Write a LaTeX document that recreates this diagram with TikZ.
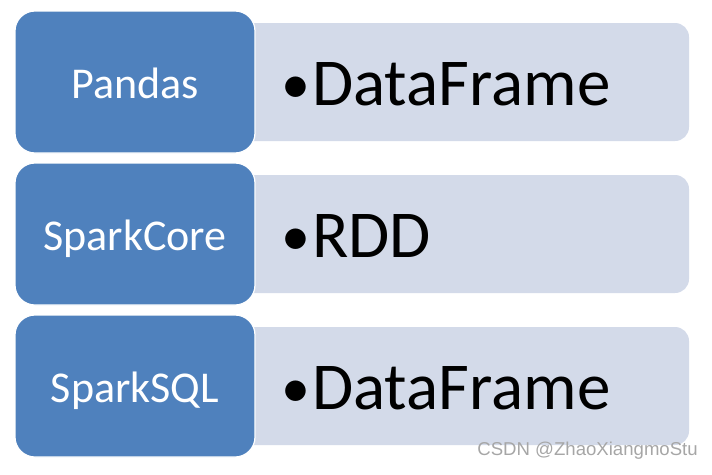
\documentclass[tikz,border=0pt]{standalone}
\usepackage{fontspec}
\setmainfont{Carlito}
\newfontfamily\wmfont{Liberation Sans}
\definecolor{hdrblue}{HTML}{4F81BD}
\definecolor{itemfill}{HTML}{D3DAE9}
\definecolor{wmgray}{HTML}{A6A6A6}
\begin{document}
\begin{tikzpicture}[x=1pt,y=-1pt,
  hdrbox/.style={fill=hdrblue,draw=white,line width=1.2pt,rounded corners=20pt},
  itembox/.style={fill=itemfill,draw=none,rounded corners=14pt},
  hdrtext/.style={text=white,inner sep=0pt,anchor=base,font=\fontsize{44}{44}\selectfont},
  bul/.style={inner sep=0pt,anchor=base west,font=\fontsize{58}{58}\selectfont},
  itemtext/.style={inner sep=0pt,anchor=base west,font=\fontsize{67}{67}\selectfont}]
\useasboundingbox (0,0) rectangle (712,474);
\foreach \i in {0,1,2}{
  \pgfmathsetmacro{\dy}{152*\i}
  \path[itembox] (240,23+\dy) rectangle (689,141+\dy);
  \path[hdrbox] (15,11+\dy) rectangle (255,153+\dy);
}
\node[hdrtext] (h1) at (135,98) {Pandas};
\node[hdrtext] (h2) at (135,250) {SparkCore};
\node[hdrtext] (h3) at (135,402) {SparkSQL};
\node[bul] (b1) at (281,103) {•};
\node[bul] (b2) at (281,255) {•};
\node[bul] (b3) at (281,407) {•};
\node[itemtext] (t1) at (312,105) {DataFrame};
\node[itemtext] (t2) at (312,257) {RDD};
\node[itemtext] (t3) at (312,409) {DataFrame};
\node[inner sep=0pt,anchor=base east,text=wmgray,font=\wmfont\fontsize{18.6}{18.6}\selectfont] (wm) at (698,455) {CSDN @ZhaoXiangmoStu};
\end{tikzpicture}
\end{document}
